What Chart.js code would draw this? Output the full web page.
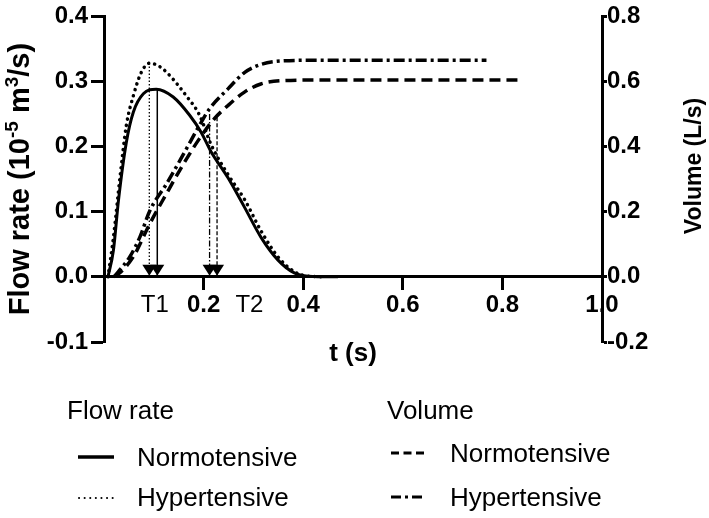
<!DOCTYPE html>
<html>
<head>
<meta charset="utf-8">
<script src="https://cdn.jsdelivr.net/npm/chart.js@4.4.1/dist/chart.umd.min.js"></script>
<style>
html,body{margin:0;padding:0;background:#fff;}
#wrap{width:709px;height:518px;position:relative;}
</style>
</head>
<body>
<div id="wrap"><canvas id="c" width="709" height="518"></canvas></div>
<script>
const FONT = '"Liberation Sans", Arial, Helvetica, sans-serif';

// ---- Data ----
// Flow rate, Normotensive (left axis, 10^-5 m^3/s)
const flowNormoT = [0.008, 0.019, 0.029, 0.045, 0.059, 0.079, 0.105, 0.139, 0.172, 0.195, 0.215, 0.249, 0.282, 0.315, 0.349, 0.382, 0.41, 0.47];
const flowNormoV = [0, 0.041, 0.117, 0.207, 0.253, 0.281, 0.288, 0.276, 0.248, 0.222, 0.192, 0.152, 0.107, 0.061, 0.026, 0.006, 0.001, 0];
// Flow rate, Hypertensive
const flowHyperT = [0.008, 0.019, 0.032, 0.045, 0.059, 0.075, 0.092, 0.115, 0.139, 0.165, 0.192, 0.215, 0.249, 0.282, 0.315, 0.349, 0.382, 0.402, 0.44];
const flowHyperV = [0, 0.061, 0.152, 0.233, 0.278, 0.314, 0.328, 0.321, 0.303, 0.278, 0.248, 0.203, 0.157, 0.119, 0.071, 0.031, 0.008, 0.002, 0];
// Volume, Normotensive (right axis, L/s)
const volNormoT = [0.02, 0.03, 0.059, 0.092, 0.125, 0.159, 0.192, 0.222, 0.249, 0.282, 0.315, 0.355, 0.435, 0.842];
const volNormoV = [0, 0.01, 0.062, 0.163, 0.254, 0.345, 0.425, 0.486, 0.526, 0.567, 0.592, 0.602, 0.604, 0.604];
// Volume, Hypertensive
const volHyperT = [0.02, 0.029, 0.052, 0.072, 0.092, 0.125, 0.159, 0.192, 0.212, 0.249, 0.282, 0.315, 0.362, 0.435, 0.768];
const volHyperV = [0, 0.016, 0.062, 0.122, 0.203, 0.284, 0.375, 0.466, 0.516, 0.577, 0.627, 0.652, 0.663, 0.665, 0.665];

// T1 / T2 markers (time, top value, axis)
const markerT    = [0.091, 0.107, 0.212, 0.227];
const markerTop  = [0.328, 0.288, 0.50, 0.49];
const markerAxis = ['y', 'y', 'y2', 'y2'];

// Tick labels
const xTickValues = [0.102, 0.2, 0.292, 0.4, 0.6, 0.8, 1.0];
const xTickLabels = ['T1', '0.2', 'T2', '0.4', '0.6', '0.8', '1.0'];
const leftTickValues = [-0.1, 0, 0.1, 0.2, 0.3, 0.4];
const rightTickValues = [-0.2, 0, 0.2, 0.4, 0.6, 0.8];

const pts = (t, v) => t.map((x, i) => ({x: x, y: v[i]}));

const markerStyles = [
  {dash: [1.5, 2], width: 1.3},
  {dash: [], width: 1.5},
  {dash: [6, 2, 1.5, 2], width: 1.3},
  {dash: [4, 2], width: 1.3}
];

const datasets = [
  {label: 'Flow Normotensive', data: pts(flowNormoT, flowNormoV), yAxisID: 'y',
   borderColor: '#000', borderWidth: 3, cubicInterpolationMode: 'monotone'},
  {label: 'Flow Hypertensive', data: pts(flowHyperT, flowHyperV), yAxisID: 'y',
   borderColor: '#000', borderWidth: 3.5, borderDash: [0.1, 6], borderCapStyle: 'round', cubicInterpolationMode: 'monotone'},
  {label: 'Volume Normotensive', data: pts(volNormoT, volNormoV), yAxisID: 'y2',
   borderColor: '#000', borderWidth: 3.5, borderDash: [11, 6], cubicInterpolationMode: 'monotone'},
  {label: 'Volume Hypertensive', data: pts(volHyperT, volHyperV), yAxisID: 'y2',
   borderColor: '#000', borderWidth: 3.5, borderDash: [11, 4, 3, 4], cubicInterpolationMode: 'monotone'}
];
markerT.forEach((t, i) => {
  datasets.push({
    label: 'marker' + i, data: [{x: t, y: markerTop[i]}, {x: t, y: 0}], yAxisID: markerAxis[i],
    borderColor: '#000', borderWidth: markerStyles[i].width, borderDash: markerStyles[i].dash, tension: 0
  });
});

const extras = {
  id: 'extras',
  afterDatasetsDraw(chart) {
    const ctx = chart.ctx, xs = chart.scales.x, ys = chart.scales.y;
    const y0 = ys.getPixelForValue(0);
    ctx.save();
    ctx.fillStyle = '#000';
    markerT.forEach(t => {
      const px = xs.getPixelForValue(t);
      ctx.beginPath();
      ctx.moveTo(px - 7, y0 - 12);
      ctx.lineTo(px + 7, y0 - 12);
      ctx.lineTo(px, y0 - 1);
      ctx.closePath();
      ctx.fill();
    });
    ctx.restore();
  },
  afterDraw(chart) {
    const ctx = chart.ctx;
    const ca = chart.chartArea;
    const mid = (ca.top + ca.bottom) / 2;

    // left axis title with real superscripts (reads bottom to top)
    ctx.save();
    ctx.fillStyle = '#000';
    ctx.textBaseline = 'alphabetic';
    ctx.textAlign = 'left';
    const parts = [
      {t: 'Flow rate (10', sup: false},
      {t: '-5', sup: true},
      {t: ' m', sup: false},
      {t: '3', sup: true},
      {t: '/s)', sup: false}
    ];
    const mainF = 'bold 29px ' + FONT, supF = 'bold 19px ' + FONT;
    let total = 0;
    parts.forEach(p => { ctx.font = p.sup ? supF : mainF; p.w = ctx.measureText(p.t).width; total += p.w; });
    ctx.translate(29, mid);
    ctx.rotate(-Math.PI / 2);
    let cx = -total / 2;
    parts.forEach(p => {
      ctx.font = p.sup ? supF : mainF;
      ctx.fillText(p.t, cx, p.sup ? -11 : 0);
      cx += p.w;
    });
    ctx.restore();

    // right axis title (reads bottom to top)
    ctx.save();
    ctx.translate(695, 166);
    ctx.rotate(-Math.PI / 2);
    ctx.font = 'bold 23px ' + FONT;
    ctx.fillStyle = '#000';
    ctx.textAlign = 'center';
    ctx.textBaseline = 'middle';
    ctx.fillText('Volume (L/s)', 0, 0);
    ctx.restore();

    // legend
    ctx.save();
    ctx.fillStyle = '#000';
    ctx.strokeStyle = '#000';
    ctx.textBaseline = 'alphabetic';
    ctx.textAlign = 'left';
    ctx.font = '26px ' + FONT;
    ctx.fillText('Flow rate', 67, 419);
    ctx.fillText('Normotensive', 137, 466);
    ctx.fillText('Hypertensive', 137, 506);
    ctx.fillText('Volume', 387, 419);
    ctx.fillText('Normotensive', 450, 462);
    ctx.fillText('Hypertensive', 450, 506);
    const seg = (x1, x2, y, w, dash, cap) => {
      ctx.beginPath();
      ctx.lineWidth = w;
      ctx.setLineDash(dash);
      ctx.lineCap = cap || 'butt';
      ctx.moveTo(x1, y); ctx.lineTo(x2, y);
      ctx.stroke();
    };
    seg(78, 114, 457, 3.5, []);
    seg(79, 114, 498, 2, [0.1, 5.5], 'round');
    seg(391, 426, 453, 3, [8, 4.5]);
    seg(391, 426, 497, 3, [10, 4, 3, 4]);
    ctx.restore();
  }
};

new Chart(document.getElementById('c'), {
  type: 'line',
  data: {datasets: datasets},
  options: {
    responsive: false,
    animation: false,
    devicePixelRatio: 1,
    layout: {padding: {top: 0, left: 0, right: 0, bottom: 176}},
    elements: {point: {radius: 0, hoverRadius: 0}, line: {fill: false}},
    plugins: {legend: {display: false}, tooltip: {enabled: false}, title: {display: false}},
    events: [],
    scales: {
      x: {
        type: 'linear', min: 0, max: 1.0, position: {y: 0},
        afterBuildTicks: s => { s.ticks = xTickValues.map(v => ({value: v})); },
        ticks: {
          autoSkip: false, maxRotation: 0, padding: 2, color: '#000',
          callback: (v, i) => xTickLabels[i],
          font: c => (xTickLabels[c.index] || '').startsWith('T')
            ? {family: FONT, size: 24, weight: 'normal'}
            : {family: FONT, size: 24, weight: 'bold'}
        },
        grid: {
          drawOnChartArea: false, tickLength: 12, tickWidth: 3,
          tickColor: c => (xTickLabels[c.index] || '').startsWith('T') ? 'rgba(0,0,0,0)' : '#000'
        },
        border: {display: true, width: 3, color: '#000'},
        title: {display: true, text: 't (s)', color: '#000',
          font: {family: FONT, size: 26, weight: 'bold'}, padding: {top: 17, bottom: 0}}
      },
      y: {
        type: 'linear', position: 'left', min: -0.1, max: 0.4,
        afterBuildTicks: s => { s.ticks = leftTickValues.map(v => ({value: v})); },
        afterFit: s => { s.width = 104; },
        ticks: {color: '#000', padding: 3, font: {family: FONT, size: 24, weight: 'bold', lineHeight: 1.1},
          callback: v => Number(v).toFixed(1)},
        grid: {drawOnChartArea: false, tickLength: 13, tickWidth: 3, tickColor: '#000'},
        border: {display: true, width: 3, color: '#000'},
        title: {display: false}
      },
      y2: {
        type: 'linear', position: 'right', min: -0.2, max: 0.8,
        afterBuildTicks: s => { s.ticks = rightTickValues.map(v => ({value: v})); },
        afterFit: s => { s.width = 107; },
        ticks: {color: '#000', padding: 0, font: {family: FONT, size: 24, weight: 'bold', lineHeight: 1.1},
          callback: v => Number(v).toFixed(1)},
        grid: {drawOnChartArea: false, tickLength: 5, tickWidth: 3, tickColor: '#000'},
        border: {display: true, width: 3, color: '#000'},
        title: {display: false}
      }
    }
  },
  plugins: [extras]
});
</script>
</body>
</html>
